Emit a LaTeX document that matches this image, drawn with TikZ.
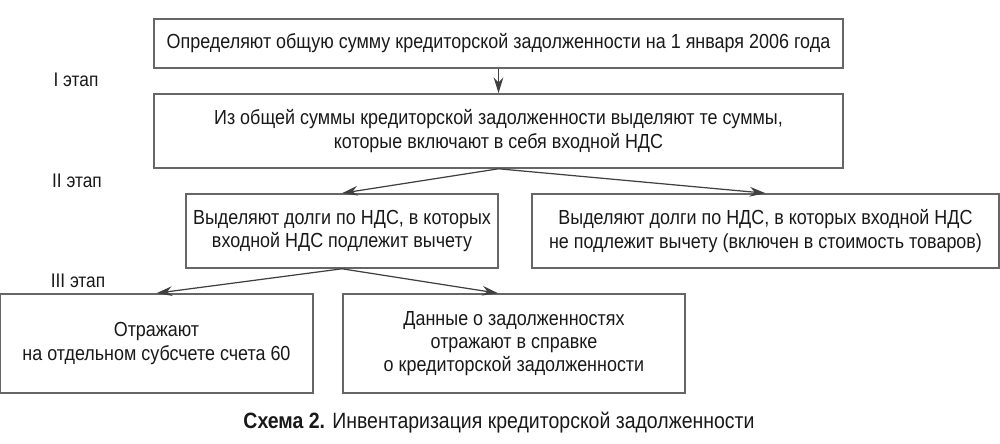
\documentclass[tikz,border=0pt]{standalone}
\usepackage{fontspec}
\setmainfont[FakeStretch=0.88]{Liberation Sans}
\usepackage{tikz}
\usetikzlibrary{arrows.meta}

\tikzset{
  blok/.style={draw=black!60, line width=0.9pt, align=center, inner sep=0pt,
    text=black!90, font=\fontsize{11.6}{13.2}\selectfont},
  strel/.style={-{Stealth[length=9pt,width=5.5pt]}, draw=black!75, line width=0.7pt},
  etap/.style={text=black!90, font=\fontsize{11.2}{13}\selectfont}
}

\begin{document}
\begin{tikzpicture}
    \useasboundingbox (0,0) rectangle (20,8.86);

    % Этапы
    \node[etap] (etap1) at (1.52,7.26) {I этап};
    \node[etap] (etap2) at (1.54,5.24) {II этап};
    \node[etap] (etap3) at (1.56,3.24) {III этап};

    % Общая сумма
    \node[blok, minimum width=13.78cm, minimum height=0.98cm] (obshaya) at (9.97,7.99)
        {Определяют общую сумму кредиторской задолженности на 1 января 2006 года};
    \node[blok, minimum width=13.78cm, minimum height=1.48cm] (vydelyayut) at (9.97,6.24)
        {Из общей суммы кредиторской задолженности выделяют те суммы,\\которые включают в себя входной НДС};

    % Вычет и без вычета
    \node[blok, minimum width=6.24cm, minimum height=1.48cm] (vychet) at (6.84,4.24)
        {Выделяют долги по НДС, в которых\\входной НДС подлежит вычету};
    \node[blok, minimum width=9.34cm, minimum height=1.48cm] (nevychet) at (15.31,4.24)
        {Выделяют долги по НДС, в которых входной НДС\\не подлежит вычету (включен в стоимость товаров)};

    % Отражение
    \node[blok, minimum width=6.26cm, minimum height=1.98cm] (subschet) at (3.13,1.99)
        {Отражают\\на отдельном субсчете счета 60};
    \node[blok, minimum width=6.84cm, minimum height=1.98cm] (spravka) at (10.28,1.99)
        {Данные о задолженностях\\отражают в справке\\о кредиторской задолженности};

    % Стрелки
    \draw[strel] (obshaya.south) -- (vydelyayut.north);
    \draw[strel] (vydelyayut.south) -- (vychet.north);
    \draw[strel] (vydelyayut.south) -- (nevychet.north);
    \draw[strel] (vychet.south) -- (subschet.north);
    \draw[strel] (vychet.south) -- ([xshift=-0.32cm]spravka.north);

    % Подпись
    \node[etap, font=\fontsize{12.6}{14}\selectfont] (podpis) at (9.98,0.4)
        {\textbf{Схема 2.} Инвентаризация кредиторской задолженности};
\end{tikzpicture}
\end{document}
